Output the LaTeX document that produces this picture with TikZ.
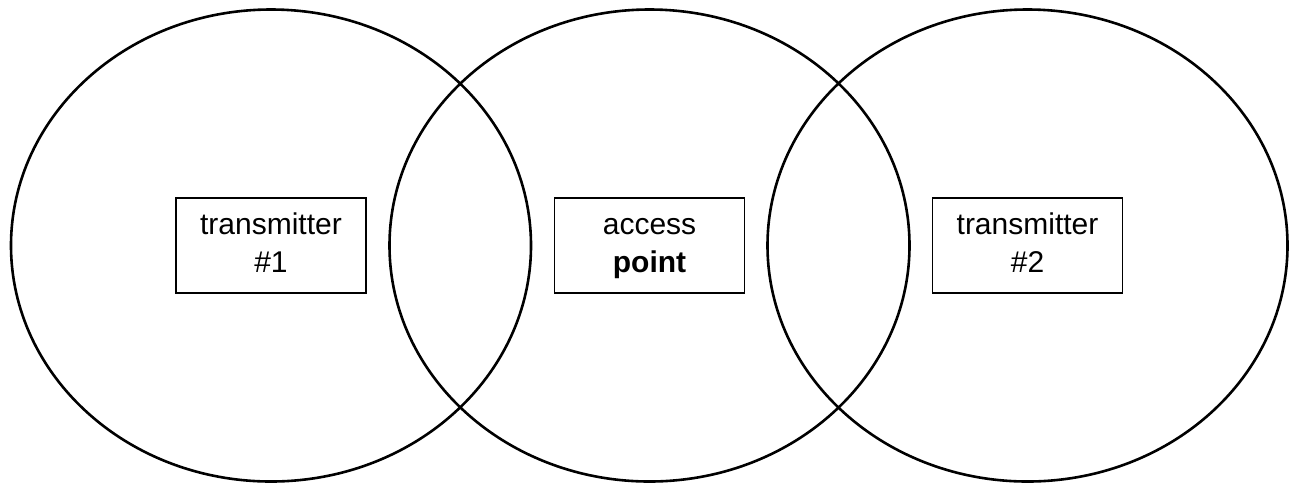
\documentclass[tikz,border=0pt]{standalone}
\usepackage{fontspec}
\setmainfont{Liberation Sans}
\usetikzlibrary{positioning}

\begin{document}
\begin{tikzpicture}[
    x=0.5pt,y=-0.5pt,
    station/.style={draw,line width=0.8pt,minimum width=95pt,minimum height=47.5pt,
                    align=center,inner sep=0pt,font=\fontsize{15}{19}\selectfont},
    coverage/.style={line width=1.3pt},
  ]
  \useasboundingbox (0,0) rectangle (1290,484);

  % ---------------------------------------------------------------- stations
  \node[station] (tx1) at (271,245.5) {\strut transmitter\\\strut\#1};
  \node[station] (ap)  at (649.5,245.5) {\strut access\\\strut\textbf{point}};
  \node[station] (tx2) at (1027.5,245.5) {\strut transmitter\\\strut\#2};

  % ---------------------------------------------------------------- coverage
  \foreach \n in {tx1,ap,tx2}
    \draw[coverage] (\n) ellipse [x radius=130pt,y radius=118pt];
\end{tikzpicture}
\end{document}
